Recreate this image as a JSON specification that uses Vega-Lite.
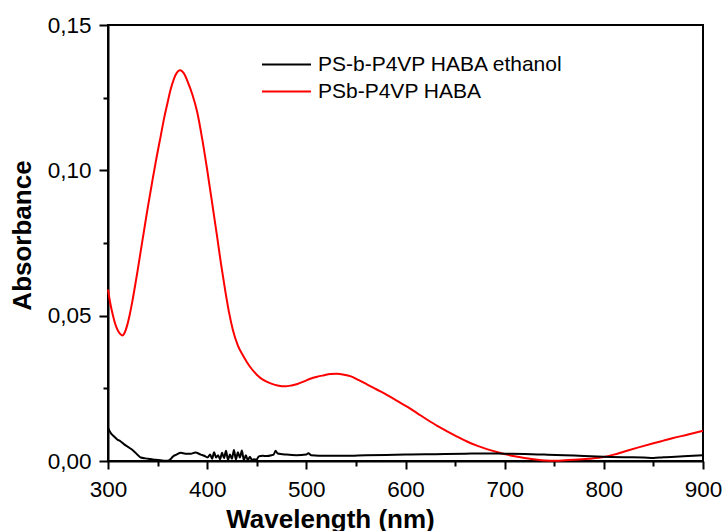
{
  "$schema": "https://vega.github.io/schema/vega-lite/v6.json",
  "width": 595,
  "height": 436,
  "autosize": {"type": "none"},
  "padding": {"left": 108, "top": 25, "right": 19, "bottom": 70},
  "background": "white",
  "config": {
    "font": "Liberation Sans",
    "view": {"stroke": "black", "strokeWidth": 2},
    "axis": {"grid": false, "domainColor": "black", "domainWidth": 2, "tickColor": "black", "tickWidth": 2, "labelColor": "black", "titleColor": "black"}
  },
  "data": {"values": [
    {"wl":300,"a":0.0590,"s":"PSb-P4VP HABA"},{"wl":302,"a":0.0548,"s":"PSb-P4VP HABA"},{"wl":304.4,"a":0.0509,"s":"PSb-P4VP HABA"},{"wl":307,"a":0.0475,"s":"PSb-P4VP HABA"},{"wl":309.5,"a":0.0452,"s":"PSb-P4VP HABA"},{"wl":312,"a":0.0438,"s":"PSb-P4VP HABA"},{"wl":314.5,"a":0.0432,"s":"PSb-P4VP HABA"},{"wl":317,"a":0.0443,"s":"PSb-P4VP HABA"},{"wl":319.6,"a":0.0470,"s":"PSb-P4VP HABA"},{"wl":322,"a":0.0505,"s":"PSb-P4VP HABA"},{"wl":324.6,"a":0.0550,"s":"PSb-P4VP HABA"},{"wl":327,"a":0.0597,"s":"PSb-P4VP HABA"},{"wl":329.6,"a":0.0650,"s":"PSb-P4VP HABA"},{"wl":333,"a":0.0722,"s":"PSb-P4VP HABA"},{"wl":336.3,"a":0.0792,"s":"PSb-P4VP HABA"},{"wl":340,"a":0.0870,"s":"PSb-P4VP HABA"},{"wl":344.8,"a":0.0965,"s":"PSb-P4VP HABA"},{"wl":349,"a":0.1045,"s":"PSb-P4VP HABA"},{"wl":353.1,"a":0.1117,"s":"PSb-P4VP HABA"},{"wl":356.5,"a":0.1178,"s":"PSb-P4VP HABA"},{"wl":359.9,"a":0.1230,"s":"PSb-P4VP HABA"},{"wl":363,"a":0.1276,"s":"PSb-P4VP HABA"},{"wl":366.5,"a":0.1315,"s":"PSb-P4VP HABA"},{"wl":369.5,"a":0.1336,"s":"PSb-P4VP HABA"},{"wl":372.3,"a":0.1344,"s":"PSb-P4VP HABA"},{"wl":375,"a":0.1340,"s":"PSb-P4VP HABA"},{"wl":377.5,"a":0.1328,"s":"PSb-P4VP HABA"},{"wl":380,"a":0.1308,"s":"PSb-P4VP HABA"},{"wl":385,"a":0.1262,"s":"PSb-P4VP HABA"},{"wl":390,"a":0.1200,"s":"PSb-P4VP HABA"},{"wl":395,"a":0.1108,"s":"PSb-P4VP HABA"},{"wl":400,"a":0.1002,"s":"PSb-P4VP HABA"},{"wl":405,"a":0.0888,"s":"PSb-P4VP HABA"},{"wl":410,"a":0.0773,"s":"PSb-P4VP HABA"},{"wl":414,"a":0.0677,"s":"PSb-P4VP HABA"},{"wl":418.5,"a":0.0580,"s":"PSb-P4VP HABA"},{"wl":422,"a":0.0512,"s":"PSb-P4VP HABA"},{"wl":426,"a":0.0450,"s":"PSb-P4VP HABA"},{"wl":431,"a":0.0397,"s":"PSb-P4VP HABA"},{"wl":437,"a":0.0358,"s":"PSb-P4VP HABA"},{"wl":443,"a":0.0325,"s":"PSb-P4VP HABA"},{"wl":450,"a":0.0297,"s":"PSb-P4VP HABA"},{"wl":457,"a":0.0278,"s":"PSb-P4VP HABA"},{"wl":464,"a":0.0267,"s":"PSb-P4VP HABA"},{"wl":471,"a":0.0260,"s":"PSb-P4VP HABA"},{"wl":479,"a":0.0257,"s":"PSb-P4VP HABA"},{"wl":485,"a":0.0260,"s":"PSb-P4VP HABA"},{"wl":491,"a":0.0265,"s":"PSb-P4VP HABA"},{"wl":498,"a":0.0274,"s":"PSb-P4VP HABA"},{"wl":504,"a":0.0283,"s":"PSb-P4VP HABA"},{"wl":511,"a":0.0290,"s":"PSb-P4VP HABA"},{"wl":518,"a":0.0295,"s":"PSb-P4VP HABA"},{"wl":524,"a":0.0299,"s":"PSb-P4VP HABA"},{"wl":531,"a":0.0300,"s":"PSb-P4VP HABA"},{"wl":538,"a":0.0297,"s":"PSb-P4VP HABA"},{"wl":545,"a":0.0291,"s":"PSb-P4VP HABA"},{"wl":553,"a":0.0278,"s":"PSb-P4VP HABA"},{"wl":561,"a":0.0264,"s":"PSb-P4VP HABA"},{"wl":571,"a":0.0246,"s":"PSb-P4VP HABA"},{"wl":582,"a":0.0226,"s":"PSb-P4VP HABA"},{"wl":592,"a":0.0206,"s":"PSb-P4VP HABA"},{"wl":602,"a":0.0186,"s":"PSb-P4VP HABA"},{"wl":612,"a":0.0164,"s":"PSb-P4VP HABA"},{"wl":622,"a":0.0142,"s":"PSb-P4VP HABA"},{"wl":632,"a":0.0121,"s":"PSb-P4VP HABA"},{"wl":642,"a":0.0102,"s":"PSb-P4VP HABA"},{"wl":652,"a":0.0084,"s":"PSb-P4VP HABA"},{"wl":662,"a":0.0067,"s":"PSb-P4VP HABA"},{"wl":672,"a":0.0053,"s":"PSb-P4VP HABA"},{"wl":682,"a":0.0041,"s":"PSb-P4VP HABA"},{"wl":692,"a":0.0031,"s":"PSb-P4VP HABA"},{"wl":701,"a":0.0023,"s":"PSb-P4VP HABA"},{"wl":710,"a":0.0016,"s":"PSb-P4VP HABA"},{"wl":720,"a":0.0010,"s":"PSb-P4VP HABA"},{"wl":733,"a":0.0004,"s":"PSb-P4VP HABA"},{"wl":746,"a":0.0001,"s":"PSb-P4VP HABA"},{"wl":758,"a":0.0002,"s":"PSb-P4VP HABA"},{"wl":770,"a":0.0004,"s":"PSb-P4VP HABA"},{"wl":785,"a":0.0008,"s":"PSb-P4VP HABA"},{"wl":800,"a":0.0014,"s":"PSb-P4VP HABA"},{"wl":810,"a":0.0022,"s":"PSb-P4VP HABA"},{"wl":820,"a":0.0032,"s":"PSb-P4VP HABA"},{"wl":835,"a":0.0047,"s":"PSb-P4VP HABA"},{"wl":850,"a":0.0061,"s":"PSb-P4VP HABA"},{"wl":860,"a":0.0070,"s":"PSb-P4VP HABA"},{"wl":870,"a":0.0079,"s":"PSb-P4VP HABA"},{"wl":885,"a":0.0091,"s":"PSb-P4VP HABA"},{"wl":900,"a":0.0104,"s":"PSb-P4VP HABA"},
    {"wl":300,"a":0.0114,"s":"PS-b-P4VP HABA ethanol"},{"wl":303,"a":0.0095,"s":"PS-b-P4VP HABA ethanol"},{"wl":305.9,"a":0.0085,"s":"PS-b-P4VP HABA ethanol"},{"wl":309,"a":0.0075,"s":"PS-b-P4VP HABA ethanol"},{"wl":312.8,"a":0.0067,"s":"PS-b-P4VP HABA ethanol"},{"wl":316,"a":0.0058,"s":"PS-b-P4VP HABA ethanol"},{"wl":319.6,"a":0.0050,"s":"PS-b-P4VP HABA ethanol"},{"wl":323,"a":0.0042,"s":"PS-b-P4VP HABA ethanol"},{"wl":326.3,"a":0.0033,"s":"PS-b-P4VP HABA ethanol"},{"wl":330,"a":0.0021,"s":"PS-b-P4VP HABA ethanol"},{"wl":333,"a":0.0012,"s":"PS-b-P4VP HABA ethanol"},{"wl":338,"a":0.0009,"s":"PS-b-P4VP HABA ethanol"},{"wl":343,"a":0.0007,"s":"PS-b-P4VP HABA ethanol"},{"wl":348,"a":0.0004,"s":"PS-b-P4VP HABA ethanol"},{"wl":353,"a":0.0003,"s":"PS-b-P4VP HABA ethanol"},{"wl":357,"a":0.0001,"s":"PS-b-P4VP HABA ethanol"},{"wl":360,"a":0.0001,"s":"PS-b-P4VP HABA ethanol"},{"wl":363,"a":0.0006,"s":"PS-b-P4VP HABA ethanol"},{"wl":365,"a":0.0014,"s":"PS-b-P4VP HABA ethanol"},{"wl":369,"a":0.0022,"s":"PS-b-P4VP HABA ethanol"},{"wl":373.5,"a":0.0028,"s":"PS-b-P4VP HABA ethanol"},{"wl":378,"a":0.0025,"s":"PS-b-P4VP HABA ethanol"},{"wl":383.6,"a":0.0025,"s":"PS-b-P4VP HABA ethanol"},{"wl":388,"a":0.0029,"s":"PS-b-P4VP HABA ethanol"},{"wl":393.6,"a":0.0022,"s":"PS-b-P4VP HABA ethanol"},{"wl":397,"a":0.0018,"s":"PS-b-P4VP HABA ethanol"},{"wl":400.4,"a":0.0012,"s":"PS-b-P4VP HABA ethanol"},{"wl":403,"a":0.0022,"s":"PS-b-P4VP HABA ethanol"},{"wl":405,"a":0.0008,"s":"PS-b-P4VP HABA ethanol"},{"wl":407,"a":0.0030,"s":"PS-b-P4VP HABA ethanol"},{"wl":409,"a":0.0012,"s":"PS-b-P4VP HABA ethanol"},{"wl":411,"a":0.0020,"s":"PS-b-P4VP HABA ethanol"},{"wl":413,"a":0.0006,"s":"PS-b-P4VP HABA ethanol"},{"wl":415,"a":0.0028,"s":"PS-b-P4VP HABA ethanol"},{"wl":417,"a":0.0010,"s":"PS-b-P4VP HABA ethanol"},{"wl":419,"a":0.0035,"s":"PS-b-P4VP HABA ethanol"},{"wl":421,"a":0.0004,"s":"PS-b-P4VP HABA ethanol"},{"wl":423,"a":0.0022,"s":"PS-b-P4VP HABA ethanol"},{"wl":425,"a":0.0008,"s":"PS-b-P4VP HABA ethanol"},{"wl":427,"a":0.0038,"s":"PS-b-P4VP HABA ethanol"},{"wl":429,"a":0.0005,"s":"PS-b-P4VP HABA ethanol"},{"wl":431,"a":0.0030,"s":"PS-b-P4VP HABA ethanol"},{"wl":433,"a":0.0012,"s":"PS-b-P4VP HABA ethanol"},{"wl":435,"a":0.0036,"s":"PS-b-P4VP HABA ethanol"},{"wl":437,"a":0.0003,"s":"PS-b-P4VP HABA ethanol"},{"wl":439,"a":0.0020,"s":"PS-b-P4VP HABA ethanol"},{"wl":441,"a":0.0002,"s":"PS-b-P4VP HABA ethanol"},{"wl":443,"a":0.0015,"s":"PS-b-P4VP HABA ethanol"},{"wl":445,"a":0.0004,"s":"PS-b-P4VP HABA ethanol"},{"wl":447,"a":0.0006,"s":"PS-b-P4VP HABA ethanol"},{"wl":450,"a":0.0005,"s":"PS-b-P4VP HABA ethanol"},{"wl":452,"a":0.0016,"s":"PS-b-P4VP HABA ethanol"},{"wl":456,"a":0.0018,"s":"PS-b-P4VP HABA ethanol"},{"wl":460,"a":0.0017,"s":"PS-b-P4VP HABA ethanol"},{"wl":465,"a":0.0020,"s":"PS-b-P4VP HABA ethanol"},{"wl":467,"a":0.0022,"s":"PS-b-P4VP HABA ethanol"},{"wl":469,"a":0.0035,"s":"PS-b-P4VP HABA ethanol"},{"wl":471,"a":0.0026,"s":"PS-b-P4VP HABA ethanol"},{"wl":480,"a":0.0022,"s":"PS-b-P4VP HABA ethanol"},{"wl":490,"a":0.0020,"s":"PS-b-P4VP HABA ethanol"},{"wl":500,"a":0.0022,"s":"PS-b-P4VP HABA ethanol"},{"wl":502,"a":0.0027,"s":"PS-b-P4VP HABA ethanol"},{"wl":505,"a":0.0020,"s":"PS-b-P4VP HABA ethanol"},{"wl":520,"a":0.0018,"s":"PS-b-P4VP HABA ethanol"},{"wl":540,"a":0.0018,"s":"PS-b-P4VP HABA ethanol"},{"wl":560,"a":0.0020,"s":"PS-b-P4VP HABA ethanol"},{"wl":580,"a":0.0021,"s":"PS-b-P4VP HABA ethanol"},{"wl":600,"a":0.0022,"s":"PS-b-P4VP HABA ethanol"},{"wl":620,"a":0.0023,"s":"PS-b-P4VP HABA ethanol"},{"wl":640,"a":0.0024,"s":"PS-b-P4VP HABA ethanol"},{"wl":660,"a":0.0025,"s":"PS-b-P4VP HABA ethanol"},{"wl":680,"a":0.0026,"s":"PS-b-P4VP HABA ethanol"},{"wl":700,"a":0.0025,"s":"PS-b-P4VP HABA ethanol"},{"wl":720,"a":0.0024,"s":"PS-b-P4VP HABA ethanol"},{"wl":740,"a":0.0022,"s":"PS-b-P4VP HABA ethanol"},{"wl":760,"a":0.0020,"s":"PS-b-P4VP HABA ethanol"},{"wl":780,"a":0.0017,"s":"PS-b-P4VP HABA ethanol"},{"wl":800,"a":0.0015,"s":"PS-b-P4VP HABA ethanol"},{"wl":820,"a":0.0013,"s":"PS-b-P4VP HABA ethanol"},{"wl":840,"a":0.0012,"s":"PS-b-P4VP HABA ethanol"},{"wl":850,"a":0.0010,"s":"PS-b-P4VP HABA ethanol"},{"wl":860,"a":0.0013,"s":"PS-b-P4VP HABA ethanol"},{"wl":880,"a":0.0016,"s":"PS-b-P4VP HABA ethanol"},{"wl":900,"a":0.0020,"s":"PS-b-P4VP HABA ethanol"}
  ]},
  "layer": [
    {
      "mark": {"type": "line", "strokeWidth": 2, "interpolate": "monotone"},
      "encoding": {
        "x": {"field": "wl", "type": "quantitative", "scale": {"domain": [300, 900], "nice": false, "zero": false},
          "axis": {"orient": "bottom", "values": [300, 400, 500, 600, 700, 800, 900], "tickSize": 8, "labelFontSize": 22.5, "labelPadding": 9, "labelFlush": false,
            "title": "Wavelength (nm)", "titleFontSize": 26, "titleFontWeight": "bold", "titleX": 222, "titleY": 66, "titleAlign": "center", "titleBaseline": "alphabetic"}},
        "y": {"field": "a", "type": "quantitative", "scale": {"domain": [0, 0.15], "nice": false},
          "axis": {"orient": "left", "values": [0, 0.05, 0.1, 0.15], "tickSize": 9, "labelFontSize": 22.5, "labelPadding": 8, "labelFlush": false, "labelBaseline": "middle",
            "labelExpr": "replace(format(datum.value, '.2f'), '.', ',')",
            "title": "Absorbance", "titleFontSize": 26, "titleFontWeight": "bold", "titleX": -78, "titleY": 210, "titleAngle": -90, "titleAlign": "center", "titleBaseline": "alphabetic"}},
        "color": {"field": "s", "type": "nominal",
          "scale": {"domain": ["PS-b-P4VP HABA ethanol", "PSb-P4VP HABA"], "range": ["#000000", "#ff0000"]},
          "legend": {"title": null, "orient": "none", "legendX": 168, "legendY": 29, "padding": 0, "symbolType": "M-4,0L4,0", "symbolSize": 150, "symbolStrokeWidth": 2, "symbolFillColor": "transparent",
            "labelFontSize": 21, "labelOffset": 21, "rowPadding": 5, "labelLimit": 500, "labelColor": "black"}}
      }
    },
    {
      "mark": {"type": "line", "opacity": 0},
      "encoding": {
        "x": {"field": "wl", "type": "quantitative",
          "axis": {"orient": "bottom", "values": [350, 450, 550, 650, 750, 850], "tickSize": 5, "labels": false, "domain": false, "title": null}},
        "y": {"field": "a", "type": "quantitative",
          "axis": {"orient": "left", "values": [0.025, 0.075, 0.125], "tickSize": 5, "labels": false, "domain": false, "title": null}},
        "detail": {"field": "s", "type": "nominal"}
      }
    }
  ],
  "resolve": {"axis": {"x": "independent", "y": "independent"}}
}
